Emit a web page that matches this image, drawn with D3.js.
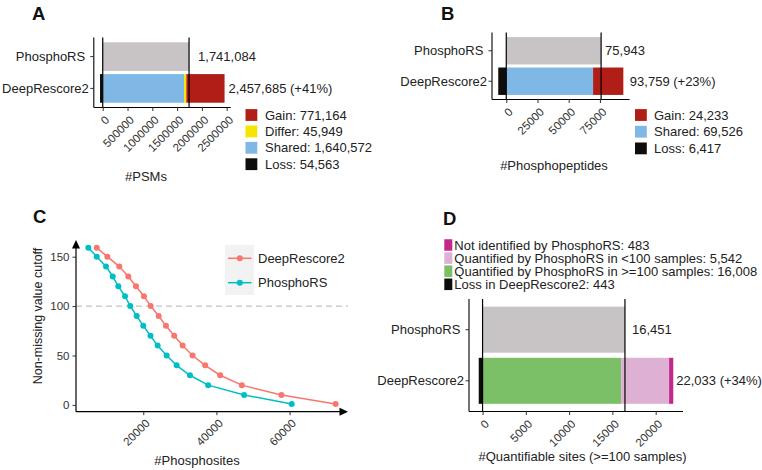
<!DOCTYPE html>
<html><head><meta charset="utf-8">
<script src="https://cdn.jsdelivr.net/npm/d3@7"></script>
<style>body{margin:0;background:#fff}svg{display:block}</style>
</head><body>
<svg id="chart" width="762" height="470"></svg>
<script>
// ---------------- data ----------------
const categories = ["PhosphoRS", "DeepRescore2"];

// Panel A: PSMs
const psmKeys   = ["Gain", "Differ", "Shared", "Loss"];
const psmValues = [771164, 45949, 1640572, 54563];
const psmTicks  = [0, 500000, 1000000, 1500000, 2000000, 2500000];

// Panel B: phosphopeptides
const pepKeys   = ["Gain", "Shared", "Loss"];
const pepValues = [24233, 69526, 6417];
const pepTicks  = [0, 25000, 50000, 75000];

// Panel C: non-missing value cutoff curves
const cutoffs      = [159,150,140,130,120,110,100,90,80,70,60,50,40,30,20,10,1];
const deepSites    = [7290,10180,13450,15910,18010,20190,22033,24210,26200,28460,30760,33480,36920,41020,46940,57770,72590];
const phosphoSites = [4990,7290,9820,11650,13180,15010,16451,18200,20000,21970,23930,26390,29120,32750,37740,47570,60580];
const cSeries      = ["DeepRescore2", "PhosphoRS"];
const cXTicks      = [20000, 40000, 60000];
const cYTicks      = [0, 50, 100, 150];
const cutoffLine   = 100;

// Panel D: quantifiable sites
const siteKeys   = ["Not identified by PhosphoRS", "Quantified by PhosphoRS in <100 samples", "Quantified by PhosphoRS in >=100 samples", "Loss in DeepRescore2"];
const siteValues = [483, 5542, 16008, 443];
const siteTicks  = [0, 5000, 10000, 15000, 20000];

// ---------------- drawing ----------------
const FONT = "'Liberation Sans', Arial, Helvetica, sans-serif";
const svg = d3.select("#chart").style("font-family", FONT);
const fmt = d3.format(",");
const COL = {gray:"#c8c4c5", red:"#b01e17", yellow:"#f6e500", blue:"#80b8e5", black:"#0f0d0b",
             magenta:"#c3288d", pink:"#deb0d3", green:"#7bbf66", cRed:"#F8766D", cCyan:"#00BFC4"};

function expand(lo, hi, f = 0.05) { const r = hi - lo; return [lo - r * f, hi + r * f]; }

function panelLetter(t, x, y) {
  svg.append("text").attr("x", x).attr("y", y).text(t)
    .style("font-size", "18.5px").style("font-weight", "bold").attr("fill", "#111");
}

function barPanel(cfg) {
  const g = svg.append("g");
  const x = d3.scaleLinear().domain(expand(cfg.min, cfg.max)).range([cfg.x0, cfg.x1]);
  const y = d3.scaleBand().domain(categories).range([cfg.y0, cfg.y1]).paddingInner(0.1).paddingOuter(0.15);

  // PhosphoRS bar
  g.append("rect").attr("x", x(0)).attr("width", x(cfg.phosphoTotal) - x(0))
    .attr("y", y("PhosphoRS")).attr("height", y.bandwidth()).attr("fill", COL.gray);
  // DeepRescore2 stacked segments
  g.selectAll("rect.seg").data(cfg.segments).join("rect").attr("class", "seg")
    .attr("x", d => x(d.start)).attr("width", d => x(d.end) - x(d.start))
    .attr("y", y("DeepRescore2")).attr("height", y.bandwidth()).attr("fill", d => d.color);

  // vertical reference lines
  [0, cfg.phosphoTotal].forEach(v => {
    g.append("line").attr("x1", x(v)).attr("x2", x(v)).attr("y1", cfg.y0).attr("y2", cfg.y1 + 0.5)
      .attr("stroke", "#000").attr("stroke-width", 1.2);
  });

  // axes
  g.append("line").attr("x1", cfg.x0).attr("x2", cfg.x0).attr("y1", cfg.y0).attr("y2", cfg.y1)
    .attr("stroke", "#000").attr("stroke-width", 1.1);
  g.append("line").attr("x1", cfg.x0).attr("x2", cfg.x1).attr("y1", cfg.y1).attr("y2", cfg.y1)
    .attr("stroke", "#000").attr("stroke-width", 1.1);

  // y ticks + labels
  categories.forEach(c => {
    const cy = y(c) + y.bandwidth() / 2;
    g.append("line").attr("x1", cfg.x0 - 3.5).attr("x2", cfg.x0).attr("y1", cy).attr("y2", cy)
      .attr("stroke", "#333").attr("stroke-width", 1);
    g.append("text").attr("x", cfg.x0 - 5).attr("y", cy).attr("dy", "0.35em")
      .attr("text-anchor", "end").style("white-space", "pre").style("font-size", "13px").attr("fill", "#222")
      .text(c === "PhosphoRS" ? "PhosphoRS " : c);
  });

  // x axis ticks via d3 axis
  const ax = g.append("g").attr("transform", `translate(0,${cfg.y1})`)
    .call(d3.axisBottom(x).tickValues(cfg.ticks).tickSize(3.5).tickFormat(d3.format("d")));
  ax.select(".domain").remove();
  ax.selectAll(".tick line").attr("stroke", "#333");
  ax.selectAll(".tick text").attr("x", 0).attr("y", 0).attr("dy", "0.71em")
    .attr("text-anchor", "end").attr("transform", "translate(1,7.5) rotate(-45)")
    .style("font-size", "11.5px").attr("fill", "#333").style("font-family", FONT);

  // value labels
  const pct = Math.round((cfg.deepTotal / cfg.phosphoTotal - 1) * 100);
  g.append("text").attr("x", x(cfg.phosphoTotal) + cfg.dx[0])
    .attr("y", y("PhosphoRS") + y.bandwidth() / 2).attr("dy", "0.35em")
    .style("font-size", "13px").attr("fill", "#222").text(fmt(cfg.phosphoTotal));
  g.append("text").attr("x", x(cfg.deepTotal) + cfg.dx[1])
    .attr("y", y("DeepRescore2") + y.bandwidth() / 2).attr("dy", "0.35em")
    .style("font-size", "13px").attr("fill", "#222").text(`${fmt(cfg.deepTotal)} (+${pct}%)`);

  // x title
  g.append("text").attr("x", cfg.titleX).attr("y", cfg.titleY).attr("text-anchor", "middle")
    .style("font-size", "13px").attr("fill", "#222").text(cfg.title);
  return {x, y};
}

function legend(items, lx, ly, step, sw, sh, tx, fs) {
  const g = svg.append("g");
  items.forEach((it, i) => {
    const cy = ly + i * step;
    g.append("rect").attr("x", lx).attr("y", cy - sh / 2).attr("width", sw).attr("height", sh).attr("fill", it.color);
    g.append("text").attr("x", tx).attr("y", cy).attr("dy", "0.35em").style("font-size", fs)
      .attr("fill", "#222").text(it.label);
  });
}

// ---- Panel A ----
panelLetter("A", 32, 20);
{
  const [gain, differ, shared, loss] = psmValues;
  const phosphoTotal = loss + shared + differ;
  const deepTotal = shared + differ + gain;
  const segments = [
    {start: -loss, end: 0, color: COL.black},
    {start: 0, end: shared, color: COL.blue},
    {start: shared, end: shared + differ, color: COL.yellow},
    {start: shared + differ, end: deepTotal, color: COL.red}
  ];
  barPanel({x0: 93.8, x1: 230.8, y0: 37.5, y1: 107.5, min: -loss, max: deepTotal,
    phosphoTotal, deepTotal, segments, ticks: psmTicks, dx: [9, 4],
    title: "#PSMs", titleX: 146, titleY: 180.5});
  const cols = [COL.red, COL.yellow, COL.blue, COL.black];
  legend(psmKeys.map((k, i) => ({label: `${k}: ${fmt(psmValues[i])}`, color: cols[i]})),
    245.5, 115, 16.4, 11.8, 11.8, 265, "13px");
}

// ---- Panel B ----
panelLetter("B", 441, 20);
{
  const [gain, shared, loss] = pepValues;
  const phosphoTotal = loss + shared;
  const deepTotal = shared + gain;
  const segments = [
    {start: -loss, end: 0, color: COL.black},
    {start: 0, end: shared, color: COL.blue},
    {start: shared, end: deepTotal, color: COL.red}
  ];
  barPanel({x0: 492, x1: 629.6, y0: 32.5, y1: 99.5, min: -loss, max: deepTotal,
    phosphoTotal, deepTotal, segments, ticks: pepTicks, dx: [4, 6.5],
    title: "#Phosphopeptides", titleX: 554, titleY: 170});
  const cols = [COL.red, COL.blue, COL.black];
  legend(pepKeys.map((k, i) => ({label: `${k}: ${fmt(pepValues[i])}`, color: cols[i]})),
    635, 115, 16.7, 11.8, 11.8, 654, "13px");
}

// ---- Panel D ----
panelLetter("D", 443, 225);
{
  const [notId, lt100, ge100, loss] = siteValues;
  const phosphoTotal = loss + ge100;
  const deepTotal = ge100 + lt100 + notId;
  const segments = [
    {start: -loss, end: 0, color: COL.black},
    {start: 0, end: ge100, color: COL.green},
    {start: ge100, end: ge100 + lt100, color: COL.pink},
    {start: ge100 + lt100, end: deepTotal, color: COL.magenta}
  ];
  barPanel({x0: 469, x1: 683, y0: 299, y1: 411.5, min: -loss, max: deepTotal,
    phosphoTotal, deepTotal, segments, ticks: siteTicks, dx: [7, 3],
    title: "#Quantifiable sites (>=100 samples)", titleX: 582.5, titleY: 461});
  const cols = [COL.magenta, COL.pink, COL.green, COL.black];
  legend(siteKeys.map((k, i) => ({label: `${k}: ${fmt(siteValues[i])}`, color: cols[i]})),
    444.3, 245, 13.1, 8, 11.5, 454.3, "13px");
}

// ---- Panel C ----
panelLetter("C", 33, 223);
{
  const g = svg.append("g");
  const allX = deepSites.concat(phosphoSites);
  const x = d3.scaleLinear().domain(expand(d3.min(allX), d3.max(allX))).range([76, 348]);
  const y = d3.scaleLinear().domain(expand(d3.min(cutoffs), d3.max(cutoffs))).range([411.7, 240]);
  const X0 = 76, X1 = 348, Y0 = 240, Y1 = 411.7;

  // dashed cutoff line
  g.append("line").attr("x1", X0).attr("x2", X1).attr("y1", y(cutoffLine)).attr("y2", y(cutoffLine))
    .attr("stroke", "#c4c4c4").attr("stroke-width", 1.2).attr("stroke-dasharray", "6,4");

  const series = [
    {name: cSeries[0], vals: deepSites, color: COL.cRed},
    {name: cSeries[1], vals: phosphoSites, color: COL.cCyan}
  ];
  const line = d3.line().x(d => x(d[0])).y(d => y(d[1]));
  series.forEach(s => {
    const pts = s.vals.map((v, i) => [v, cutoffs[i]]);
    g.append("path").datum(pts).attr("d", line).attr("fill", "none")
      .attr("stroke", s.color).attr("stroke-width", 1.5);
    g.selectAll(null).data(pts).join("circle").attr("cx", d => x(d[0])).attr("cy", d => y(d[1]))
      .attr("r", 3).attr("fill", s.color);
  });

  // axes with arrows
  g.append("line").attr("x1", X0).attr("x2", X0).attr("y1", Y1).attr("y2", Y0 + 7)
    .attr("stroke", "#000").attr("stroke-width", 1.2);
  g.append("path").attr("d", `M${X0},${Y0} L${X0 - 4},${Y0 + 8.5} L${X0 + 4},${Y0 + 8.5} Z`).attr("fill", "#000");
  g.append("line").attr("x1", X0).attr("x2", X1 - 7).attr("y1", Y1).attr("y2", Y1)
    .attr("stroke", "#000").attr("stroke-width", 1.2);
  g.append("path").attr("d", `M${X1},${Y1} L${X1 - 8.5},${Y1 - 4} L${X1 - 8.5},${Y1 + 4} Z`).attr("fill", "#000");

  const ay = g.append("g").attr("transform", `translate(${X0},0)`)
    .call(d3.axisLeft(y).tickValues(cYTicks).tickSize(3.5).tickPadding(3));
  ay.select(".domain").remove();
  ay.selectAll(".tick line").attr("stroke", "#333");
  ay.selectAll(".tick text").style("font-size", "11.5px").attr("fill", "#333").style("font-family", FONT);

  const axx = g.append("g").attr("transform", `translate(0,${Y1})`)
    .call(d3.axisBottom(x).tickValues(cXTicks).tickSize(3.5).tickFormat(d3.format("d")));
  axx.select(".domain").remove();
  axx.selectAll(".tick line").attr("stroke", "#333");
  axx.selectAll(".tick text").attr("x", 0).attr("y", 0).attr("dy", "0.71em")
    .attr("text-anchor", "end").attr("transform", "translate(1,6.5) rotate(-45)")
    .style("font-size", "11.5px").attr("fill", "#333").style("font-family", FONT);

  g.append("text").attr("x", 197).attr("y", 464.5).attr("text-anchor", "middle")
    .style("font-size", "13px").attr("fill", "#222").text("#Phosphosites");
  g.append("text").attr("transform", "translate(42,316) rotate(-90)").attr("text-anchor", "middle")
    .style("font-size", "12.5px").attr("fill", "#222").text("Non-missing value cutoff");

  // legend
  const lg = g.append("g");
  lg.append("rect").attr("x", 225).attr("y", 245).attr("width", 29).attr("height", 50).attr("fill", "#f2f2f2");
  series.forEach((s, i) => {
    const cy = 258.3 + i * 24.4;
    lg.append("line").attr("x1", 228).attr("x2", 251.5).attr("y1", cy).attr("y2", cy)
      .attr("stroke", s.color).attr("stroke-width", 1.5);
    lg.append("circle").attr("cx", 239.8).attr("cy", cy).attr("r", 3).attr("fill", s.color);
    lg.append("text").attr("x", 258).attr("y", cy).attr("dy", "0.35em").style("font-size", "13px")
      .attr("fill", "#222").text(s.name);
  });
}
</script>
</body></html>
